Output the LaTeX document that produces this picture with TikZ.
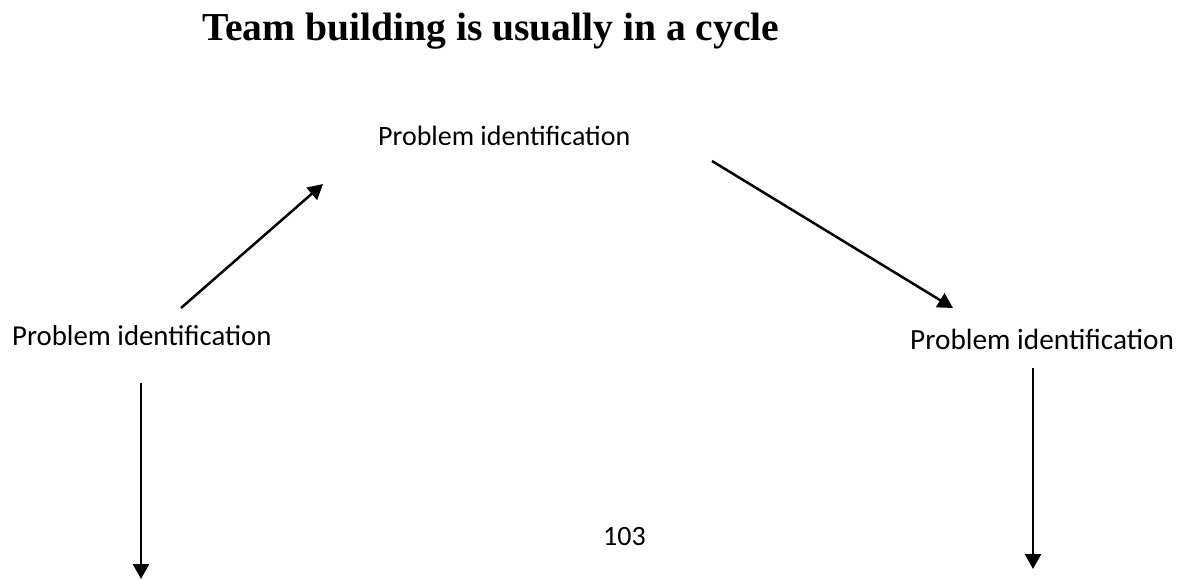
\documentclass[tikz,border=0pt]{standalone}
\usepackage{fontspec}
\setmainfont{Carlito}
\newfontfamily\titlefont{Liberation Serif}
\usetikzlibrary{arrows.meta}
\tikzset{
  lbl/.style={inner sep=0pt, anchor=base west, font=\fontsize{28}{32}\selectfont},
  conn/.style={line width=2.5pt, -{Triangle[length=15pt,width=16pt]}}
}
\begin{document}
\begin{tikzpicture}[x=1pt,y=-1pt]
\useasboundingbox (0,0) rectangle (1178,579);
\node[inner sep=0pt, anchor=base west, font=\titlefont\bfseries\fontsize{39.6}{42}\selectfont] (title) at (202,40) {Team building is usually in a cycle};
\node[lbl] (top) at (378,145) {Problem identification};
\node[lbl, font=\fontsize{28.8}{32}\selectfont] (left) at (12,345) {Problem identification};
\node[lbl, font=\fontsize{29.3}{32}\selectfont] (right) at (910,349) {Problem identification};
\node[lbl, font=\fontsize{28}{32}\selectfont] (page) at (603,545) {103};
\coordinate (a1s) at (181,308);
\coordinate (a1e) at (323,184);
\coordinate (a2s) at (712,161);
\coordinate (a2e) at (953,308);
\coordinate (a3s) at (141,383);
\coordinate (a3e) at (141,579);
\coordinate (a4s) at (1033,368);
\coordinate (a4e) at (1033,569);
\draw[conn] (a1s) -- (a1e);
\draw[conn] (a2s) -- (a2e);
\draw[conn] (a3s) -- (a3e);
\draw[conn] (a4s) -- (a4e);
\end{tikzpicture}
\end{document}
